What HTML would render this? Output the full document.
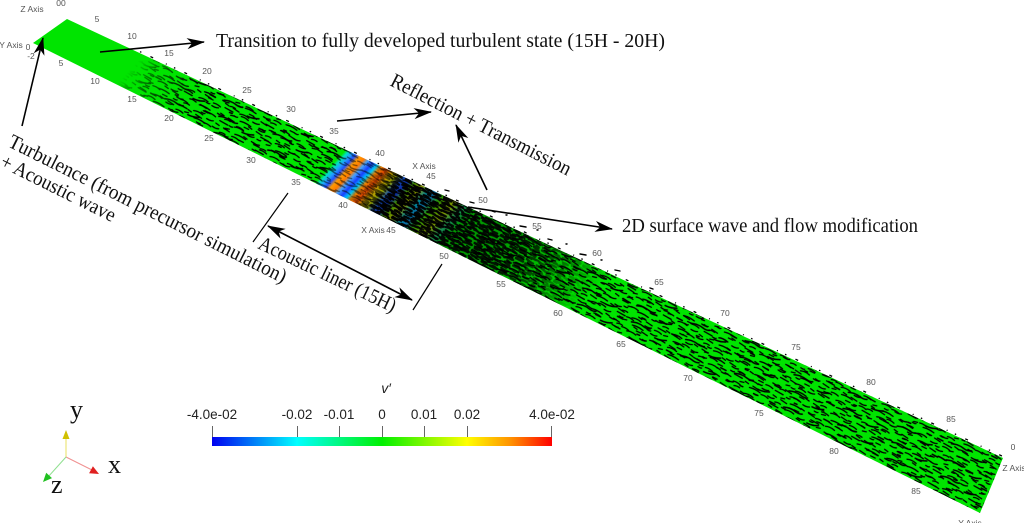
<!DOCTYPE html>
<html><head><meta charset="utf-8"><style>html,body{margin:0;padding:0;background:#fff;}svg{display:block}</style></head>
<body>
<svg width="1024" height="523" viewBox="0 0 1024 523" xmlns="http://www.w3.org/2000/svg">
<defs>
  <clipPath id="strip"><polygon points="67,19 1003,458 980,513 33,43"/></clipPath>
  <linearGradient id="liner" gradientUnits="userSpaceOnUse" x1="345.9" y1="149.8" x2="453.4" y2="250.7">
    <stop offset="0" stop-color="#00e400"/>
    <stop offset="0.02" stop-color="#00e0c0"/>
    <stop offset="0.047" stop-color="#20a0ff"/>
    <stop offset="0.073" stop-color="#2050ff"/>
    <stop offset="0.10" stop-color="#ff9a00"/>
    <stop offset="0.133" stop-color="#ff7a00"/>
    <stop offset="0.16" stop-color="#40a0ff"/>
    <stop offset="0.193" stop-color="#1840ff"/>
    <stop offset="0.227" stop-color="#00d0ff"/>
    <stop offset="0.253" stop-color="#ff9000"/>
    <stop offset="0.293" stop-color="#ff5000"/>
    <stop offset="0.333" stop-color="#f0c000"/>
    <stop offset="0.373" stop-color="#c8e000"/>
    <stop offset="0.413" stop-color="#2070ff"/>
    <stop offset="0.453" stop-color="#1040ff"/>
    <stop offset="0.493" stop-color="#60d000"/>
    <stop offset="0.547" stop-color="#d0e000"/>
    <stop offset="0.6" stop-color="#00c0e0"/>
    <stop offset="0.64" stop-color="#10a0ff"/>
    <stop offset="0.693" stop-color="#40e000"/>
    <stop offset="0.78" stop-color="#c0e000"/>
    <stop offset="0.847" stop-color="#20d080"/>
    <stop offset="0.913" stop-color="#00e400"/>
    <stop offset="1" stop-color="#00e400"/>
  </linearGradient>
  <pattern id="p1" width="44" height="14" patternUnits="userSpaceOnUse" patternTransform="rotate(22)">
    <g fill="none" stroke="#000" stroke-width="1.3" stroke-linecap="round">
      <path d="M1 2q5-1.5 10 .5"/><path d="M16 4.5q4 1 7-.3"/><path d="M29 1.5l9 1.2"/>
      <path d="M4 8.5q6-1 12 1"/><path d="M24 9.5q4 1.2 7 0"/><path d="M37 6.5l4-.6"/>
      <path d="M10 12.5l5 .4"/><path d="M33 12.5q3-1 6 0"/>
    </g>
  </pattern>
  <pattern id="p2" width="31" height="11" patternUnits="userSpaceOnUse" patternTransform="rotate(26) translate(7,3)">
    <g fill="none" stroke="#000" stroke-width="1.3" stroke-linecap="round">
      <path d="M2 3l7 1"/><path d="M13 7q4-1 8 .5"/><path d="M24 2l4 .8"/><path d="M6 9.5q3 .5 4-.3"/>
    </g>
  </pattern>
  <pattern id="p4" width="57" height="17" patternUnits="userSpaceOnUse" patternTransform="rotate(18) translate(13,5)">
    <g fill="none" stroke="#000" stroke-width="1.5" stroke-linecap="round">
      <path d="M3 4q7-2 14 1q3 1 6 0"/><path d="M30 12q6 1 12-1"/><path d="M45 3l6 1"/><path d="M12 14l3 .2"/>
    </g>
  </pattern>
  <pattern id="p3" width="22" height="8" patternUnits="userSpaceOnUse" patternTransform="rotate(20)">
    <g fill="none" stroke="#000" stroke-width="2.4" stroke-linecap="round">
      <path d="M1 2l8 1"/><path d="M12 5q4-1 8 0"/><path d="M3 6.5l5 .5"/><path d="M14 1l5 .5"/>
    </g>
  </pattern>
  <pattern id="p5" width="17" height="7" patternUnits="userSpaceOnUse" patternTransform="rotate(32) translate(5,2)">
    <g fill="none" stroke="#000" stroke-width="2.2" stroke-linecap="round">
      <path d="M1 1.5l6 1"/><path d="M9 4.5q3-1 6 .3"/><path d="M2 6l3 .2"/>
    </g>
  </pattern>
  <linearGradient id="gRamp" gradientUnits="userSpaceOnUse" x1="123.2" y1="45.3" x2="438.5" y2="341.4">
    <stop offset="0" stop-color="#000"/>
    <stop offset="0.05" stop-color="#000"/>
    <stop offset="0.09" stop-color="#777"/>
    <stop offset="0.2" stop-color="#fff"/>
    <stop offset="0.534" stop-color="#fff"/>
    <stop offset="0.557" stop-color="#808080"/>
    <stop offset="0.648" stop-color="#808080"/>
    <stop offset="0.68" stop-color="#fff"/>
    <stop offset="1" stop-color="#fff"/>
  </linearGradient>
  <mask id="mRamp" maskUnits="userSpaceOnUse" x="0" y="0" width="1024" height="523">
    <rect width="1024" height="523" fill="url(#gRamp)"/>
  </mask>
  <linearGradient id="gDense" gradientUnits="userSpaceOnUse" x1="375.9" y1="163.9" x2="555.2" y2="332.3">
    <stop offset="0" stop-color="#000"/><stop offset="0.14" stop-color="#fff"/>
    <stop offset="0.65" stop-color="#e0e0e0"/><stop offset="1" stop-color="#000"/>
  </linearGradient>
  <mask id="mDense" maskUnits="userSpaceOnUse" x="0" y="0" width="1024" height="523">
    <rect width="1024" height="523" fill="url(#gDense)"/>
  </mask>
  <linearGradient id="gDark" gradientUnits="userSpaceOnUse" x1="375.9" y1="163.9" x2="555.2" y2="332.3">
    <stop offset="0" stop-color="#000"/><stop offset="0.12" stop-color="#8c8c8c"/>
    <stop offset="0.55" stop-color="#8c8c8c"/><stop offset="0.85" stop-color="#303030"/><stop offset="1" stop-color="#000"/>
  </linearGradient>
  <mask id="mDark" maskUnits="userSpaceOnUse" x="0" y="0" width="1024" height="523">
    <rect width="1024" height="523" fill="url(#gDark)"/>
  </mask>
  <linearGradient id="cbar" x1="0" y1="0" x2="1" y2="0">
    <stop offset="0" stop-color="#0000f0"/><stop offset="0.25" stop-color="#00ffff"/>
    <stop offset="0.5" stop-color="#00f000"/><stop offset="0.75" stop-color="#ffff00"/>
    <stop offset="0.88" stop-color="#ff9000"/><stop offset="1" stop-color="#ff0000"/>
  </linearGradient>
  <marker id="ah" markerUnits="userSpaceOnUse" markerWidth="22" markerHeight="14" viewBox="-19 -7 22 14" refX="0" refY="0" orient="auto">
    <path d="M1,0 L-17,-5.5 L-12,0 L-17,5.5 Z" fill="#000"/>
  </marker>
  <marker id="ah2" markerUnits="userSpaceOnUse" markerWidth="22" markerHeight="14" viewBox="-19 -7 22 14" refX="0" refY="0" orient="auto-start-reverse">
    <path d="M1,0 L-17,-5.5 L-12,0 L-17,5.5 Z" fill="#000"/>
  </marker>
</defs>

<!-- strip -->
<polygon points="67,19 1003,458 980,513 33,43" fill="url(#liner)"/>
<g clip-path="url(#strip)">
  <rect width="1024" height="523" fill="#000" opacity="0.6" mask="url(#mDark)"/>
  <g mask="url(#mRamp)">
    <rect width="1024" height="523" fill="url(#p1)"/>
    <rect width="1024" height="523" fill="url(#p2)"/>
    <rect width="1024" height="523" fill="url(#p4)"/>
  </g>
  <g mask="url(#mDense)">
    <rect width="1024" height="523" fill="url(#p3)"/>
    <rect width="1024" height="523" fill="url(#p5)"/>
  </g>
</g>
<!-- ragged top edge -->
<polyline points="140,51.7 1003,456.5" fill="none" stroke="#000" stroke-width="1.3" stroke-dasharray="1.5 10 3 14 1 8"/>
<g stroke="#000" stroke-width="1.4" stroke-linecap="round" fill="none">
  <path d="M445 190l4 1"/><path d="M470 202l4 1"/><path d="M492 211l3 1"/><path d="M506 215l1 0"/>
  <path d="M520 226l6 1"/><path d="M548 239l4 1"/><path d="M566 244l1 0"/><path d="M580 254l6 1"/>
  <path d="M601 260l1 0"/><path d="M615 270l5 1"/><path d="M650 288l3 1"/><path d="M537 230l1 0"/>
</g>

<!-- tick labels -->
<g font-family="Liberation Sans, DejaVu Sans, sans-serif" font-size="8.5" fill="#555" text-anchor="middle">
  <text x="97" y="22">5</text><text x="132" y="39">10</text><text x="169" y="56">15</text>
  <text x="207" y="74">20</text><text x="247" y="93">25</text><text x="291" y="112">30</text>
  <text x="334" y="134">35</text><text x="380" y="156">40</text><text x="431" y="179">45</text>
  <text x="483" y="203">50</text><text x="537" y="229">55</text><text x="597" y="256">60</text>
  <text x="659" y="285">65</text><text x="725" y="316">70</text><text x="796" y="350">75</text>
  <text x="871" y="385">80</text><text x="951" y="422">85</text><text x="1013" y="450">0</text>
  <text x="424" y="169">X Axis</text>
  <text x="61" y="66">5</text><text x="95" y="84">10</text><text x="132" y="102">15</text>
  <text x="169" y="121">20</text><text x="209" y="141">25</text><text x="251" y="163">30</text>
  <text x="296" y="185">35</text><text x="343" y="208">40</text>
  <text x="373" y="233">X Axis</text><text x="391" y="233">45</text>
  <text x="444" y="259">50</text><text x="501" y="287">55</text><text x="558" y="316">60</text>
  <text x="621" y="347">65</text><text x="688" y="381">70</text><text x="759" y="416">75</text>
  <text x="834" y="454">80</text><text x="916" y="494">85</text>
  <text x="32" y="12">Z Axis</text><text x="11" y="48">Y Axis</text>
  <text x="28" y="50">0</text><text x="31" y="59">-2</text><text x="61" y="6">00</text>
  <text x="1014" y="471">Z Axis</text><text x="970" y="526">Y Axis</text>
</g>

<!-- arrows -->
<g stroke="#000" stroke-width="1.6" fill="none">
  <line x1="22" y1="126" x2="43" y2="38" marker-end="url(#ah)"/>
  <line x1="100" y1="52" x2="204" y2="42" marker-end="url(#ah)"/>
  <line x1="337" y1="121" x2="431" y2="112" marker-end="url(#ah)"/>
  <line x1="487" y1="190" x2="456" y2="125" marker-end="url(#ah)"/>
  <line x1="468" y1="207" x2="612" y2="229" marker-end="url(#ah)"/>
  <line x1="268" y1="226" x2="412" y2="300" marker-start="url(#ah2)" marker-end="url(#ah2)"/>
  <line x1="288" y1="193" x2="253" y2="242" stroke-width="1.2"/>
  <line x1="442" y1="264" x2="413" y2="310" stroke-width="1.2"/>
</g>

<!-- annotations -->
<g font-family="Liberation Serif, DejaVu Serif, serif" font-size="20.5" fill="#111">
  <text x="216" y="47" textLength="449" lengthAdjust="spacingAndGlyphs">Transition to fully developed turbulent state (15H - 20H)</text>
  <text x="622" y="232" textLength="296" lengthAdjust="spacingAndGlyphs">2D surface wave and flow modification</text>
  <text transform="translate(389,85) rotate(27)" textLength="200" lengthAdjust="spacingAndGlyphs">Reflection + Transmission</text>
  <text transform="translate(7,146) rotate(26.5)" textLength="308" lengthAdjust="spacingAndGlyphs">Turbulence (from precursor simulation)</text>
  <text transform="translate(-1,166) rotate(26.5)" textLength="126" lengthAdjust="spacingAndGlyphs">+ Acoustic wave</text>
  <text transform="translate(257,248) rotate(25.5)" textLength="150" lengthAdjust="spacingAndGlyphs">Acoustic liner (15H)</text>
</g>

<!-- axes triad -->
<g>
  <line x1="66" y1="457" x2="66" y2="437" stroke="#e8e060" stroke-width="1"/>
  <polygon points="66,430 62.5,439 69.5,439" fill="#d0c000"/>
  <line x1="66" y1="457" x2="92" y2="470" stroke="#f09090" stroke-width="1"/>
  <polygon points="99,474 89.1,473.3 92.9,466.3" fill="#e02020"/>
  <line x1="66" y1="457" x2="48" y2="477" stroke="#90e090" stroke-width="1"/>
  <polygon points="43,482 52,478.1 46.2,472.7" fill="#20c020"/>
  <g font-family="Liberation Serif, DejaVu Serif, serif" font-size="26" fill="#111">
    <text x="70" y="418">y</text>
    <text x="108" y="473">x</text>
    <text x="51" y="493">z</text>
  </g>
</g>

<!-- colorbar -->
<rect x="212" y="437" width="340" height="9" fill="url(#cbar)"/>
<g stroke="#666" stroke-width="1">
  <line x1="212.5" y1="426" x2="212.5" y2="437"/><line x1="297.5" y1="426" x2="297.5" y2="437"/>
  <line x1="339.5" y1="426" x2="339.5" y2="437"/><line x1="382.5" y1="426" x2="382.5" y2="437"/>
  <line x1="424.5" y1="426" x2="424.5" y2="437"/><line x1="467.5" y1="426" x2="467.5" y2="437"/>
  <line x1="551.5" y1="426" x2="551.5" y2="437"/>
</g>
<g font-family="Liberation Sans, DejaVu Sans, sans-serif" font-size="13.5" fill="#222" text-anchor="middle">
  <text x="212" y="419">-4.0e-02</text><text x="297" y="419">-0.02</text><text x="339" y="419">-0.01</text>
  <text x="382" y="419">0</text><text x="424" y="419">0.01</text><text x="467" y="419">0.02</text>
  <text x="552" y="419">4.0e-02</text>
  <text x="386" y="393" font-style="italic" font-size="14">v′</text>
</g>
</svg>
</body></html>
